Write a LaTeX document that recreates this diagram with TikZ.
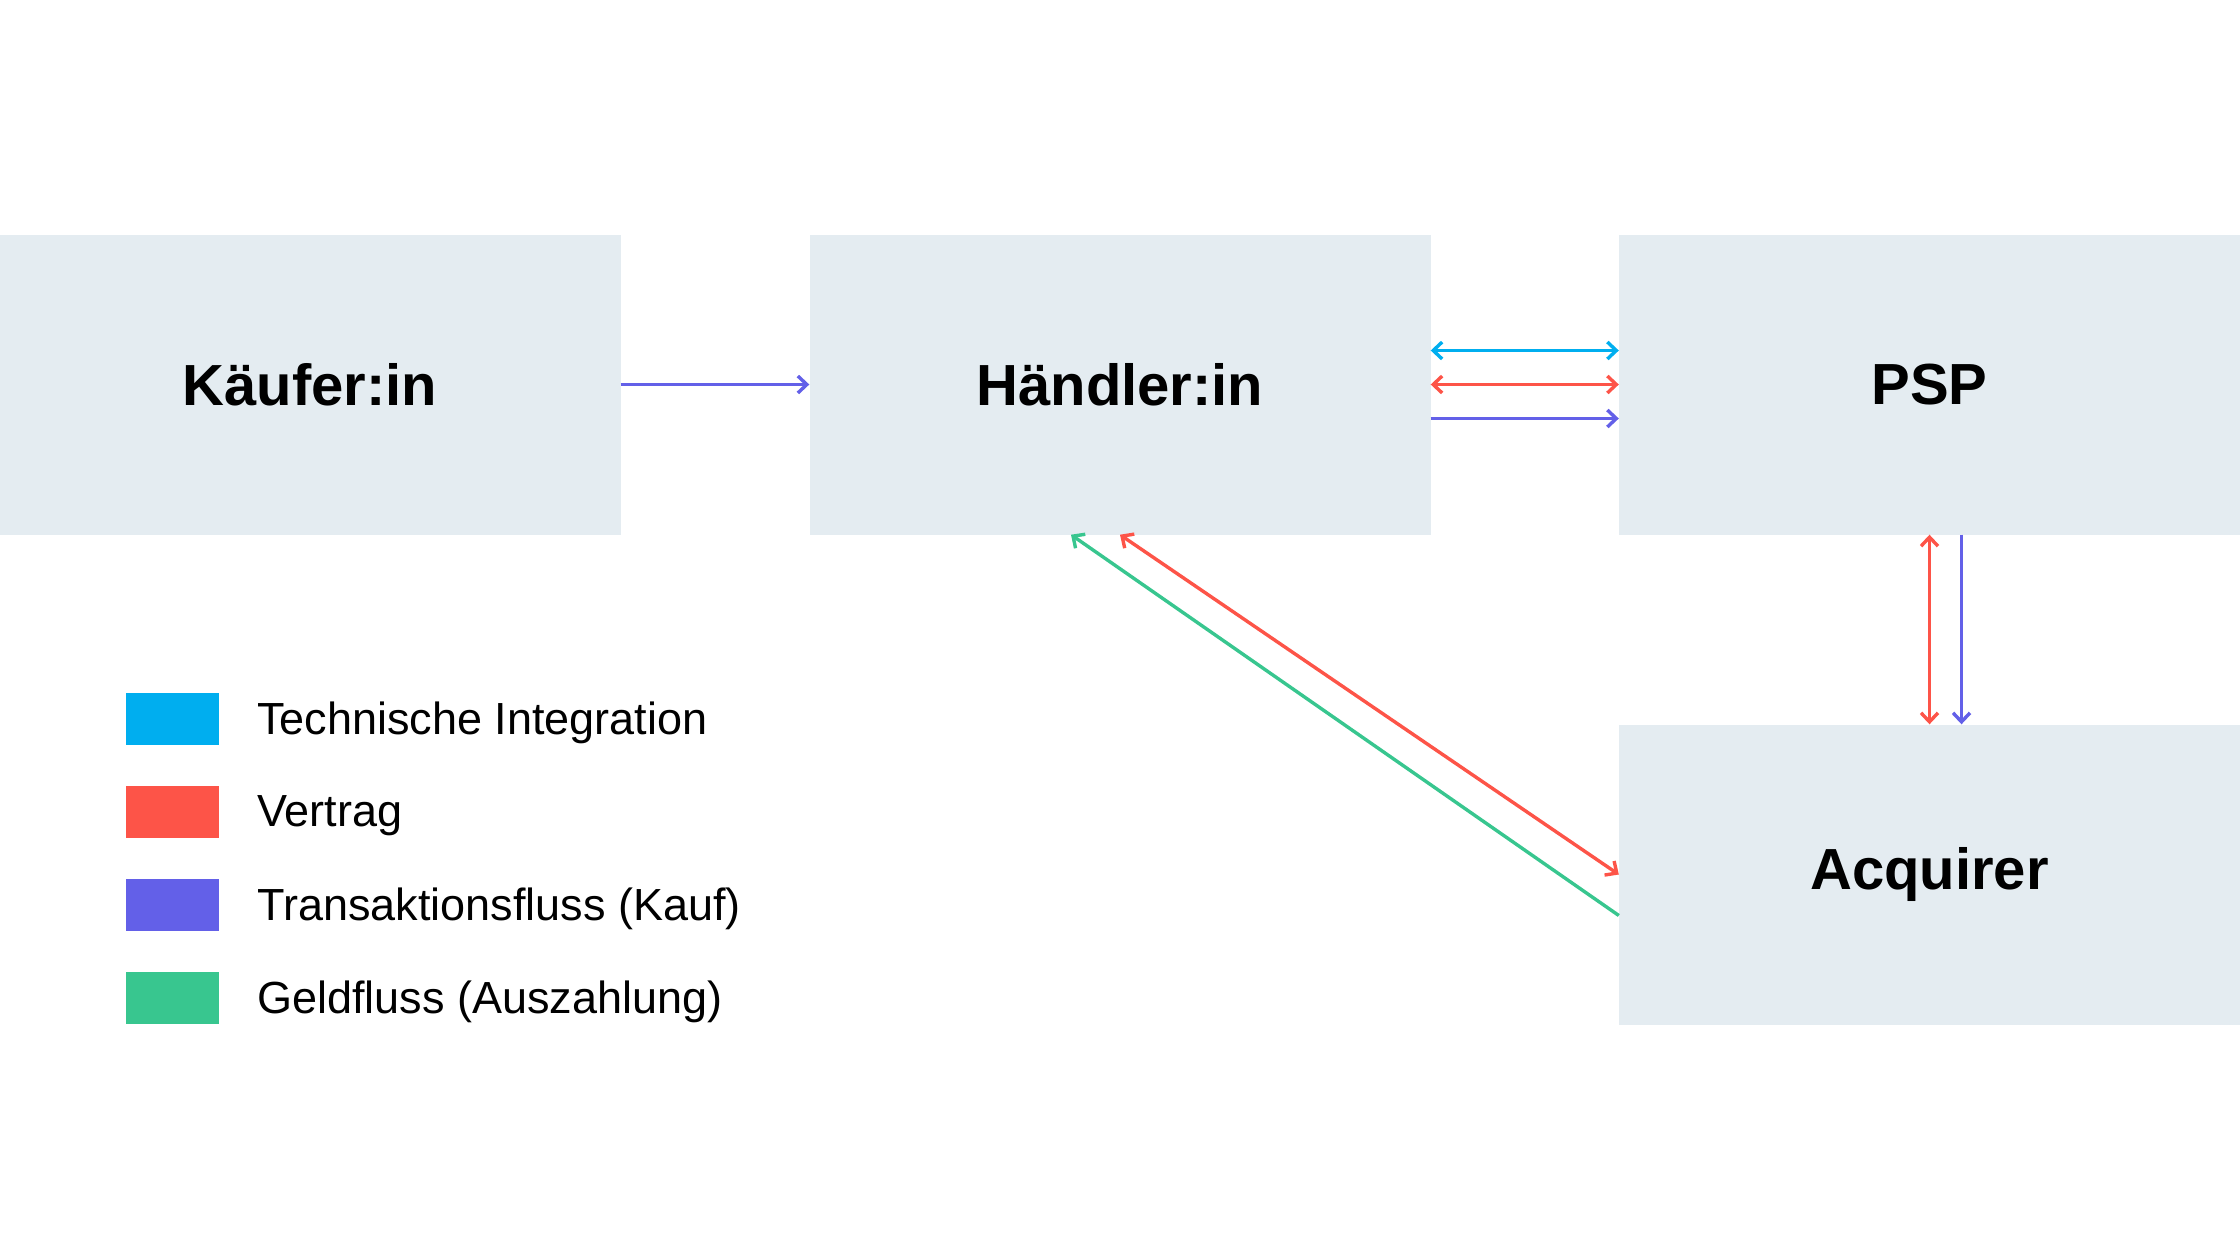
\documentclass[tikz,border=0pt]{standalone}
\usepackage{fontspec}
\setmainfont{Liberation Sans}
\usepackage{tikz}
\usetikzlibrary{arrows.meta}
\definecolor{pyBox}{HTML}{E4ECF1}
\definecolor{pyCyan}{HTML}{00AEEF}
\definecolor{pyRed}{HTML}{FD5448}
\definecolor{pyPurple}{HTML}{6360E8}
\definecolor{pyGreen}{HTML}{38C68F}

\tikzset{
    party/.style={fill=pyBox,draw=none,minimum width=621pt,minimum height=300pt,
        inner sep=0pt,font=\fontsize{58}{70}\selectfont\bfseries},
    flow/.style={line width=3.4pt,-{Straight Barb[length=9pt,width=17pt]}},
    bothflow/.style={line width=3.4pt,{Straight Barb[length=9pt,width=17pt]}-{Straight Barb[length=9pt,width=17pt]}},
    legbox/.style={minimum width=93pt,minimum height=52pt,inner sep=0pt,draw=none},
    legtext/.style={anchor=west,inner sep=0pt,font=\fontsize{45}{54}\selectfont}
}

\begin{document}
\begin{tikzpicture}[x=1pt,y=-1pt]
    \useasboundingbox (0,0) rectangle (2240,1260);

    % Parties
    \node[party] (kaeufer) at (310,384.5) {Käufer:in};
    \node[party] (haendler) at (1120,384.5) {Händler:in};
    \node[party] (psp) at (1929.5,384.5) {PSP};
    \node[party] (acquirer) at (1929.5,874.5) {Acquirer};

    % Flows
    \draw[flow,pyPurple] (kaeufer.east) -- (haendler.west);

    \draw[bothflow,pyCyan] ([yshift=34pt]haendler.east) -- ([yshift=34pt]psp.west);
    \draw[bothflow,pyRed] (haendler.east) -- (psp.west);
    \draw[flow,pyPurple] ([yshift=-34pt]haendler.east) -- ([yshift=-34pt]psp.west);

    \draw[bothflow,pyRed] (psp.south) -- (acquirer.north);
    \draw[flow,pyPurple] ([xshift=32pt]psp.south) -- ([xshift=32pt]acquirer.north);

    \draw[bothflow,pyRed] (acquirer.west) -- (haendler.south);
    \draw[flow,pyGreen] ([yshift=-41pt]acquirer.west) -- ([xshift=-49pt]haendler.south);

    % Legend
    \foreach \i/\col/\txt in {
        1/pyCyan/Technische Integration,
        2/pyRed/Vertrag,
        3/pyPurple/Transaktionsfluss (Kauf),
        4/pyGreen/Geldfluss (Auszahlung)
    }{
        \node[legbox,fill=\col] (leg\i) at (172.5,626+93*\i) {};
        \node[legtext] (legtxt\i) at (257,630+93*\i) {\txt};
    }
\end{tikzpicture}
\end{document}
